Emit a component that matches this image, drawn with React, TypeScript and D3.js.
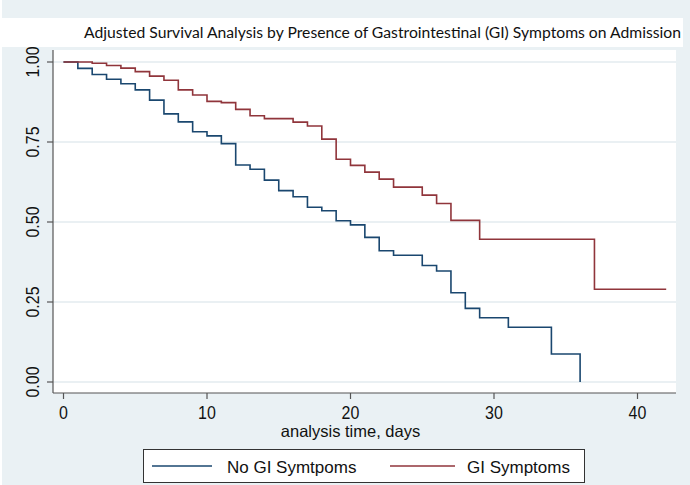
import React from "react";
import * as d3 from "d3";

const title = "Adjusted Survival Analysis by Presence of Gastrointestinal (GI) Symptoms on Admission";
const xTicks = [0, 10, 20, 30, 40];
const yTicks = [0, 0.25, 0.5, 0.75, 1.0];
const xAxisTitle = "analysis time, days";
const seriesNames = ["No GI Symtpoms", "GI Symptoms"];

const noGiDays = [0, 1, 2, 3, 4, 5, 6, 7, 8, 9, 10, 11, 12, 13, 14, 15, 16, 17, 18, 19, 20, 21, 22, 23, 25, 26, 27, 28, 29, 31, 34, 36];
const noGiSurv = [1.0, 0.98, 0.961, 0.946, 0.932, 0.913, 0.881, 0.838, 0.813, 0.782, 0.769, 0.745, 0.678, 0.665, 0.631, 0.598, 0.579, 0.546, 0.535, 0.504, 0.491, 0.452, 0.41, 0.396, 0.364, 0.347, 0.279, 0.23, 0.201, 0.171, 0.0875, 0.0];

const giDays = [0, 2, 3, 4, 5, 6, 7, 8, 9, 10, 11, 12, 13, 14, 16, 17, 18, 19, 20, 21, 22, 23, 25, 26, 27, 29, 37, 42];
const giSurv = [1.0, 0.996, 0.989, 0.981, 0.97, 0.956, 0.943, 0.913, 0.897, 0.877, 0.873, 0.852, 0.832, 0.823, 0.812, 0.8, 0.759, 0.696, 0.677, 0.656, 0.634, 0.609, 0.584, 0.558, 0.505, 0.446, 0.29, 0.29];

const colors = ["#1a476f", "#90353b"];

export default function App() {
  const W = 690, H = 485;
  const plot = { left: 53, right: 676, top: 50, bottom: 393 };
  const x = d3.scaleLinear().domain([0, 40]).range([63.5, 637.5]);
  const y = d3.scaleLinear().domain([0, 1]).range([382, 62]);
  const line = d3.line<[number, number]>()
    .x(d => x(d[0]))
    .y(d => y(d[1]))
    .curve(d3.curveStepAfter);
  const series = [
    noGiDays.map((d, i) => [d, noGiSurv[i]] as [number, number]),
    giDays.map((d, i) => [d, giSurv[i]] as [number, number]),
  ];
  const sans = "'Liberation Sans', Arial, sans-serif";
  return (
    <svg width={W} height={H} style={{ position: "absolute", left: 0, top: 0 }} xmlns="http://www.w3.org/2000/svg">
      <rect x={0} y={0} width={W} height={H} fill="#eaf1f4" />
      <rect x={0} y={0} width={2} height={H} fill="#ffffff" />
      <rect x={0} y={18} width={683} height={29} fill="#ffffff" />
      <text x={84} y={38} fontFamily="Lato, 'Open Sans', sans-serif" fontSize={15.5} fill="#111" textLength={597} lengthAdjust="spacingAndGlyphs">{title}</text>
      <rect x={plot.left} y={plot.top} width={plot.right - plot.left} height={plot.bottom - plot.top} fill="#ffffff" />
      {yTicks.map(t => (
        <line key={"g" + t} x1={plot.left} x2={plot.right} y1={y(t)} y2={y(t)} stroke="#e3ebef" strokeWidth={1.3} />
      ))}
      {series.map((s, i) => (
        <path key={i} d={line(s) || ""} fill="none" stroke={colors[i]} strokeWidth={1.6} />
      ))}
      <line x1={plot.left} x2={plot.left} y1={plot.top} y2={plot.bottom} stroke="#555" strokeWidth={1.2} />
      <line x1={plot.left} x2={plot.right} y1={plot.bottom} y2={plot.bottom} stroke="#555" strokeWidth={1.2} />
      {yTicks.map(t => (
        <g key={"y" + t}>
          <line x1={plot.left - 6} x2={plot.left} y1={y(t)} y2={y(t)} stroke="#555" strokeWidth={1.2} />
          <text transform={`translate(38.5,${y(t)}) rotate(-90) scale(1,1.12)`} textAnchor="middle" fontFamily={sans} fontSize={16} fill="#111">{t.toFixed(2)}</text>
        </g>
      ))}
      {xTicks.map(t => (
        <g key={"x" + t}>
          <line x1={x(t)} x2={x(t)} y1={plot.bottom} y2={plot.bottom + 6} stroke="#555" strokeWidth={1.2} />
          <text transform={`translate(${x(t)},419) scale(1,1.1)`} textAnchor="middle" fontFamily={sans} fontSize={16} fill="#111">{t}</text>
        </g>
      ))}
      <text x={x(20)} y={437} textAnchor="middle" fontFamily={sans} fontSize={16.5} fill="#111">{xAxisTitle}</text>
      <rect x={143.5} y={449.5} width={441} height={33} fill="#ffffff" stroke="#333" strokeWidth={1} />
      <line x1={152} x2={212} y1={466} y2={466} stroke={colors[0]} strokeWidth={1.6} />
      <text x={227} y={472.5} fontFamily={sans} fontSize={17} fill="#111">{seriesNames[0]}</text>
      <line x1={390} x2={455} y1={466} y2={466} stroke={colors[1]} strokeWidth={1.6} />
      <text x={467} y={472.5} fontFamily={sans} fontSize={17} fill="#111">{seriesNames[1]}</text>
    </svg>
  );
}
